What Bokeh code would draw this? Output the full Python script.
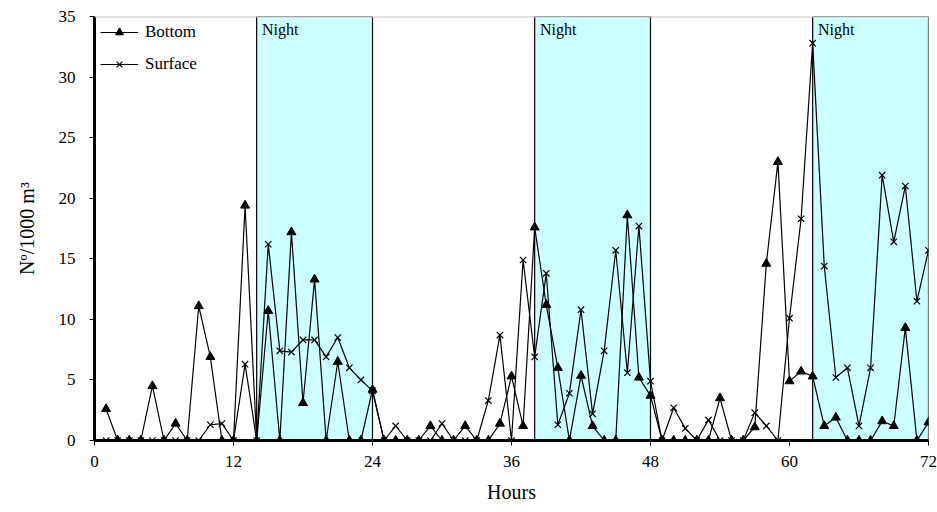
from bokeh.plotting import figure
from bokeh.models import ColumnDataSource, Range1d, FixedTicker, Span, Legend, LegendItem
from bokeh.embed import file_html
from bokeh.resources import INLINE
from bokeh.core.properties import value

hours = list(range(1, 73))
bottom = [2.6, 0, 0, 0, 4.5, 0, 1.4, 0, 11.1, 6.9, 0, 0, 19.4,
          0, 10.7, 0, 17.2, 3.1, 13.3, 0, 6.5, 0, 0, 4.2,
          0, 0, 0, 0, 1.2, 0, 0, 1.2, 0, 0, 1.4, 5.3, 1.2,
          17.6, 11.2, 6.0, 0, 5.35, 1.2, 0, 0, 18.6, 5.2, 3.7,
          0, 0, 0, 0, 0, 3.5, 0, 0, 1.1, 14.6, 23.0, 4.9, 5.7,
          5.3, 1.2, 1.9, 0, 0, 0, 1.6, 1.2, 9.3, 0, 1.5]
surface = [0, 0, 0, 0, 0, 0, 0, 0, 0, 1.3, 1.4, 0, 6.3,
           0, 16.2, 7.4, 7.3, 8.3, 8.3, 6.9, 8.5, 6.0, 5.0, 4.1,
           0, 1.2, 0, 0, 0, 1.4, 0, 0, 0, 3.3, 8.7, 0, 14.9,
           6.9, 13.8, 1.3, 3.9, 10.8, 2.2, 7.4, 15.7, 5.6, 17.7, 4.9,
           0, 2.7, 1.0, 0, 1.7, 0, 0, 0, 2.3, 1.2, 0, 10.1, 18.3,
           32.8, 14.4, 5.2, 6.0, 1.2, 6.0, 21.9, 16.4, 21.0, 11.5, 15.7]
night_start = [14, 38, 62]
night_end = [24, 48, 72]
night_label = ["Night", "Night", "Night"]
x_ticks = [0, 12, 24, 36, 48, 60, 72]
y_ticks = [0, 5, 10, 15, 20, 25, 30, 35]

FONT = "Liberation Serif"

p = figure(width=937, height=505, output_backend="svg", toolbar_location=None,
           x_range=Range1d(0, 72), y_range=Range1d(0, 35),
           min_border_left=94, min_border_right=9, min_border_top=16, min_border_bottom=64)
p.outline_line_color = None
p.grid.visible = False
p.background_fill_color = "white"

nsrc = ColumnDataSource(dict(left=night_start, right=night_end,
                             bottom=[0] * 3, top=[35] * 3,
                             lx=[s + 0.45 for s in night_start], ly=[34.6] * 3,
                             label=night_label))
p.quad(left="left", right="right", bottom="bottom", top="top", source=nsrc,
       fill_color="#CCFFFF", line_color="black", line_width=1.2)
p.text(x="lx", y="ly", text="label", source=nsrc, text_font=value(FONT),
       text_font_size="16px", text_baseline="top", text_align="left", text_color="black")

p.add_layout(Span(location=35, dimension="width", line_color="#c8c8c8", line_width=2))

src = ColumnDataSource(dict(h=hours, b=bottom, s=surface))
lb = p.line("h", "b", source=src, line_color="black", line_width=1.2)
mb = p.scatter("h", "b", source=src, marker="triangle", size=9,
               fill_color="black", line_color="black")
ls = p.line("h", "s", source=src, line_color="black", line_width=1.2)
ms = p.scatter("h", "s", source=src, marker="x", size=9,
               line_color="black", line_width=1.2)

legend = Legend(items=[LegendItem(label="Bottom", renderers=[lb, mb]),
                       LegendItem(label="Surface", renderers=[ls, ms])],
                location="top_left", background_fill_alpha=0, border_line_color=None,
                label_text_font=FONT, label_text_font_size="17px", label_text_color="black",
                glyph_width=38, glyph_height=20, spacing=12, padding=2, margin=6,
                label_standoff=7)
p.add_layout(legend)

for ax in (p.xaxis, p.yaxis):
    ax.axis_line_color = "black"
    ax.axis_line_width = 3
    ax.major_tick_line_color = "black"
    ax.major_tick_line_width = 1
    ax.major_tick_in = 0
    ax.major_tick_out = 5
    ax.minor_tick_line_color = None
    ax.major_label_text_font = FONT
    ax.major_label_text_font_size = "17px"
    ax.major_label_text_color = "black"
    ax.axis_label_text_font = FONT
    ax.axis_label_text_font_style = "normal"
    ax.axis_label_text_font_size = "20px"
    ax.axis_label_text_color = "black"

p.xaxis.ticker = FixedTicker(ticks=x_ticks)
p.yaxis.ticker = FixedTicker(ticks=y_ticks)
p.xaxis.major_label_standoff = 10
p.yaxis.major_label_standoff = 14
p.xaxis.axis_label = "Hours"
p.yaxis.axis_label = "Nº/1000 m³"
p.xaxis.axis_label_standoff = 11
p.yaxis.axis_label_standoff = 18

open("out.html", "w").write(file_html(p, INLINE))
